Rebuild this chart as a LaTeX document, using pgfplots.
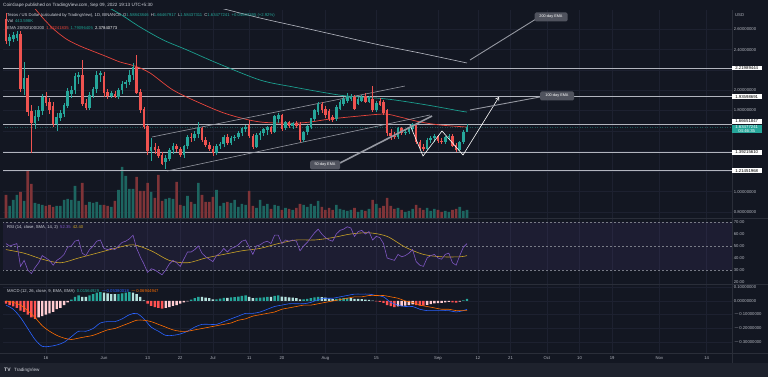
\documentclass[border=0pt]{standalone}
\usepackage{pgfplots}
\pgfplotsset{compat=1.18}
\usepackage{pgfplotstable}
\usetikzlibrary{arrows.meta}
\usepackage{fontspec}
\setmainfont{Liberation Sans}
\definecolor{bg}{HTML}{131722}
\definecolor{footc}{HTML}{1E222D}
\definecolor{gridc}{HTML}{1D2130}
\definecolor{sepc}{HTML}{2A2E39}
\definecolor{txt}{HTML}{B2B5BE}
\definecolor{hdr}{HTML}{D1D4DC}
\definecolor{up}{HTML}{26A69A}
\definecolor{dn}{HTML}{EF5350}
\definecolor{volup}{HTML}{1D6560}
\definecolor{voldn}{HTML}{7F3438}
\definecolor{emared}{HTML}{E8453C}
\definecolor{emateal}{HTML}{1B9E8E}
\definecolor{emagray}{HTML}{B8BBC4}
\definecolor{levc}{HTML}{B2B5BE}
\definecolor{chanc}{HTML}{9598A1}
\definecolor{rsiline}{HTML}{7E57C2}
\definecolor{rsisma}{HTML}{C9A227}
\definecolor{dashc}{HTML}{787B86}
\definecolor{macdc}{HTML}{2962FF}
\definecolor{sigc}{HTML}{FF6D00}
\definecolor{hup}{HTML}{26A69A}
\definecolor{hupl}{HTML}{B2DFDB}
\definecolor{hdn}{HTML}{FF5252}
\definecolor{hdnl}{HTML}{FFCDD2}
\definecolor{annot}{HTML}{50535E}
\newcommand{\tf}{\fontsize{4.2}{4.8}\selectfont}

\pgfplotstableread{
d o h l c v
-27 2.70 2.76 2.46 2.49 23
-26 2.49 2.55 2.44 2.52 12
-25 2.51 2.57 2.47 2.54 18
-24 2.52 2.58 2.48 2.55 23
-23 2.55 2.58 1.98 2.01 26
-22 2.01 2.28 1.95 2.12 17
-21 2.12 2.15 1.75 1.79 47
-20 1.79 1.85 1.38 1.68 34
-19 1.68 1.80 1.62 1.74 15
-18 1.74 1.84 1.70 1.80 14
-17 1.80 1.96 1.76 1.93 13
-16 1.93 1.98 1.84 1.88 12
-15 1.88 1.92 1.77 1.81 13
-14 1.84 1.88 1.64 1.67 11
-13 1.67 1.78 1.60 1.73 12
-12 1.73 1.80 1.70 1.77 12
-11 1.77 1.87 1.74 1.85 18
-10 1.85 2.02 1.82 1.99 19
-9 1.97 2.04 1.92 2.00 18
-8 2.00 2.17 1.96 2.14 32
-7 2.13 2.18 2.06 2.15 17
-6 2.15 2.30 1.84 1.87 35
-5 1.87 1.91 1.80 1.83 13
-4 1.83 1.98 1.80 1.95 16
-3 1.95 2.03 1.92 2.01 15
-2 2.01 2.19 1.97 2.15 16
-1 2.15 2.19 2.08 2.17 13
0 2.14 2.18 1.93 1.98 13
1 1.98 2.01 1.91 1.95 12
2 1.95 1.99 1.92 1.97 11
3 1.96 1.99 1.92 1.94 17
4 1.94 2.02 1.91 2.00 28
5 2.00 2.09 1.96 2.06 51
6 2.06 2.10 2.02 2.08 42
7 2.08 2.20 2.05 2.15 29
8 2.15 2.27 2.10 2.23 29
9 2.23 2.35 1.96 1.98 41
10 1.98 2.01 1.78 1.81 27
11 1.81 1.83 1.62 1.64 27
12 1.64 1.66 1.36 1.40 35
13 1.40 1.53 1.30 1.44 26
14 1.44 1.48 1.37 1.41 20
15 1.42 1.45 1.33 1.35 43
16 1.36 1.39 1.26 1.28 17
17 1.30 1.36 1.22 1.33 19
18 1.33 1.43 1.30 1.41 20
19 1.41 1.48 1.37 1.45 19
20 1.45 1.47 1.39 1.42 36
21 1.42 1.44 1.34 1.36 13
22 1.36 1.46 1.33 1.45 12
23 1.45 1.56 1.42 1.54 22
24 1.54 1.58 1.49 1.53 16
25 1.53 1.60 1.50 1.57 14
26 1.57 1.69 1.53 1.62 35
27 1.62 1.64 1.49 1.51 23
28 1.51 1.54 1.44 1.46 16
29 1.46 1.49 1.40 1.42 16
30 1.42 1.45 1.35 1.38 21
31 1.38 1.47 1.36 1.45 28
32 1.45 1.49 1.42 1.47 12
33 1.47 1.56 1.44 1.54 15
34 1.54 1.57 1.46 1.48 16
35 1.48 1.55 1.46 1.53 15
36 1.53 1.56 1.50 1.54 18
37 1.54 1.60 1.52 1.58 11
38 1.58 1.64 1.55 1.62 14
39 1.62 1.66 1.59 1.63 13
40 1.65 1.71 1.53 1.55 27
41 1.55 1.57 1.42 1.44 12
42 1.44 1.58 1.43 1.56 10
43 1.56 1.60 1.51 1.58 18
44 1.58 1.63 1.55 1.61 12
45 1.61 1.65 1.56 1.63 14
46 1.63 1.65 1.57 1.59 9
47 1.59 1.76 1.58 1.74 13
48 1.72 1.78 1.68 1.75 12
49 1.75 1.77 1.60 1.62 8
50 1.63 1.70 1.61 1.68 10
51 1.68 1.70 1.63 1.65 9
52 1.65 1.69 1.62 1.67 8
53 1.67 1.70 1.63 1.65 10
54 1.66 1.69 1.49 1.51 14
55 1.51 1.60 1.49 1.59 13
56 1.59 1.66 1.56 1.64 11
57 1.64 1.73 1.62 1.72 14
58 1.72 1.81 1.70 1.80 12
59 1.79 1.88 1.76 1.86 17
60 1.86 1.88 1.78 1.81 11
61 1.81 1.84 1.73 1.76 8
62 1.79 1.81 1.70 1.72 10
63 1.73 1.76 1.69 1.71 8
64 1.72 1.85 1.70 1.83 13
65 1.82 1.90 1.80 1.88 9
66 1.87 1.93 1.84 1.91 8
67 1.90 1.97 1.87 1.94 7
68 1.92 1.96 1.89 1.94 8
69 1.93 1.95 1.80 1.82 10
70 1.87 1.93 1.85 1.91 6
71 1.90 1.95 1.88 1.93 8
72 1.94 1.97 1.87 1.89 7
73 1.89 1.94 1.87 1.92 9
74 1.91 2.04 1.79 1.81 18
75 1.81 1.89 1.79 1.87 14
76 1.89 1.92 1.84 1.86 10
77 1.88 1.90 1.76 1.78 12
78 1.80 1.81 1.55 1.58 20
79 1.58 1.62 1.51 1.55 12
80 1.55 1.59 1.52 1.54 9
81 1.54 1.64 1.52 1.62 10
82 1.62 1.64 1.56 1.58 8
83 1.58 1.61 1.56 1.59 6
84 1.59 1.64 1.57 1.62 7
85 1.62 1.68 1.60 1.66 9
86 1.66 1.67 1.47 1.49 13
87 1.49 1.51 1.42 1.44 10
88 1.44 1.47 1.40 1.42 8
89 1.42 1.53 1.41 1.51 10
90 1.51 1.55 1.48 1.53 7
91 1.53 1.57 1.49 1.55 9
92 1.55 1.56 1.48 1.50 8
93 1.50 1.53 1.47 1.49 6
94 1.49 1.55 1.47 1.54 7
95 1.54 1.57 1.51 1.55 6
96 1.55 1.57 1.44 1.45 8
97 1.46 1.48 1.39 1.41 9
98 1.41 1.50 1.40 1.49 11
99 1.49 1.61 1.47 1.59 7
100 1.5884 1.6647 1.5844 1.6348 8
}\candles

\pgfplotstableread{
d r
-27 52
-26 50
-25 51
-24 52
-23 33
-22 38
-21 30
-20 27
-19 32
-18 36
-17 42
-16 40
-15 38
-14 34
-13 38
-12 40
-11 43
-10 49
-9 50
-8 54
-7 55
-6 44
-5 42
-4 47
-3 50
-2 54
-1 55
0 48
1 47
2 48
3 47
4 50
5 53
6 54
7 56
8 59
9 48
10 41
11 35
12 28
13 31
14 30
15 28
16 26
17 30
18 35
19 38
20 36
21 33
22 39
23 45
24 45
25 47
26 50
27 44
28 41
29 39
30 37
31 42
32 44
33 48
34 45
35 48
36 49
37 51
38 54
39 55
40 49
41 43
42 50
43 51
44 53
45 54
46 52
47 59
48 59
49 52
50 55
51 54
52 55
53 54
54 46
55 50
56 53
57 57
58 61
59 64
60 60
61 57
62 55
63 54
64 60
65 63
66 64
67 66
68 65
69 58
70 62
71 63
72 60
73 62
74 55
75 58
76 57
77 52
78 40
79 39
80 38
81 43
82 41
83 42
84 44
85 47
86 37
87 34
88 33
89 40
90 42
91 43
92 40
93 39
94 43
95 44
96 36
97 34
98 42
99 49
100 52
}\rsitab

\pgfplotstableread{
d h k
-27 -0.02 3
-26 -0.03 3
-25 -0.04 3
-24 -0.05 3
-23 -0.07 3
-22 -0.08 3
-21 -0.10 3
-20 -0.12 3
-19 -0.13 3
-18 -0.12 4
-17 -0.11 4
-16 -0.10 4
-15 -0.09 4
-14 -0.08 4
-13 -0.06 4
-12 -0.05 4
-11 -0.03 4
-10 -0.01 4
-9 0.01 1
-8 0.03 1
-7 0.04 1
-6 0.03 2
-5 0.03 2
-4 0.04 1
-3 0.05 1
-2 0.06 1
-1 0.065 1
0 0.06 2
1 0.055 2
2 0.05 2
3 0.05 2
4 0.05 1
5 0.055 1
6 0.06 1
7 0.065 1
8 0.06 2
9 0.05 2
10 0.03 2
11 0.005 2
12 -0.02 3
13 -0.035 3
14 -0.045 3
15 -0.05 3
16 -0.055 3
17 -0.05 4
18 -0.045 4
19 -0.035 4
20 -0.03 4
21 -0.02 4
22 -0.01 4
23 -0.003 4
24 0.01 1
25 0.02 1
26 0.03 1
27 0.03 2
28 0.025 2
29 0.02 2
30 0.012 2
31 0.012 1
32 0.018 1
33 0.022 1
34 0.022 2
35 0.026 1
36 0.028 1
37 0.032 1
38 0.038 1
39 0.04 1
40 0.03 2
41 0.02 2
42 0.022 1
43 0.024 1
44 0.027 1
45 0.03 1
46 0.03 2
47 0.038 1
48 0.04 1
49 0.032 2
50 0.03 2
51 0.026 2
52 0.024 2
53 0.02 2
54 0.012 2
55 0.012 1
56 0.015 1
57 0.02 1
58 0.026 1
59 0.03 1
60 0.028 2
61 0.024 2
62 0.018 2
63 0.014 2
64 0.016 1
65 0.019 1
66 0.021 1
67 0.022 1
68 0.021 2
69 0.016 2
70 0.015 2
71 0.014 2
72 0.01 2
73 0.008 2
74 0.002 2
75 -0.002 3
76 -0.006 3
77 -0.014 3
78 -0.03 3
79 -0.038 3
80 -0.044 3
81 -0.04 4
82 -0.038 4
83 -0.034 4
84 -0.03 4
85 -0.024 4
86 -0.03 3
87 -0.034 3
88 -0.034 3
89 -0.028 4
90 -0.022 4
91 -0.017 4
92 -0.016 4
93 -0.014 4
94 -0.01 4
95 -0.006 4
96 -0.01 3
97 -0.012 3
98 -0.004 4
99 0.005 1
100 0.015 1
}\histtab

\pgfplotsset{
  tvbase/.style={
    scale only axis, width=729pt, anchor=south west,
    xmin=-27.82, xmax=173.0,
    axis line style={draw=none}, major tick length=0pt,
    xtick={-16,0,12,21,30,40,49,61,75,92,103,112,122,131,140,153,166},
    xticklabels={},
    xmajorgrids, ymajorgrids, grid style={draw=gridc, line width=0.5pt},
    yticklabel pos=right,
    yticklabel style={font=\tf, text=txt, anchor=west, xshift=1.2pt, inner sep=0.5pt},
    scaled y ticks=false,
  },
  ovl/.style={
    scale only axis, width=729pt, anchor=south west,
    xmin=-27.82, xmax=173.0, hide axis,
  },
}

\begin{document}
\begin{tikzpicture}[x=1pt,y=1pt]
\path[use as bounding box] (0,0) rectangle (768,377);
\fill[bg] (0,0) rectangle (768,377);
\fill[footc] (0,0) rectangle (768,14);

% ---------- price pane: grid + scale
\begin{axis}[tvbase, at={(3pt,159pt)}, height=208pt, ymin=0.7409, ymax=2.7901,
  ytick={0.8,1.0,1.2,1.4,1.6,1.8,2.0,2.2,2.4,2.6},
  yticklabels={0.80000000,1.00000000,,,,1.80000000,2.00000000,,2.40000000,2.60000000}]
\addplot[draw=none] coordinates {(0,1)};
\end{axis}

% ---------- volume
\begin{axis}[ovl, at={(3pt,159pt)}, height=208pt, ymin=0, ymax=208]
\addplot[ybar, bar width=2.6pt, bar shift=0pt, fill=volup, draw=none,
  restrict expr to domain={\thisrow{c}-\thisrow{o}}{0:10}] table[x=d, y=v] {\candles};
\addplot[ybar, bar width=2.6pt, bar shift=0pt, fill=voldn, draw=none,
  restrict expr to domain={\thisrow{c}-\thisrow{o}}{-10:-0.00001}] table[x=d, y=v] {\candles};
\end{axis}

% ---------- price content
\begin{axis}[ovl, at={(3pt,159pt)}, height=208pt, ymin=0.7409, ymax=2.7901]
% key levels
\addplot[levc, line width=0.7pt] coordinates {(-28,2.21989444) (174,2.21989444)};
\addplot[levc, line width=0.7pt] coordinates {(-28,1.93598691) (174,1.93598691)};
\addplot[levc, line width=0.7pt] coordinates {(-28,1.66651847) (174,1.66651847)};
\addplot[levc, line width=0.7pt] coordinates {(-28,1.39215610) (174,1.39215610)};
\addplot[levc, line width=0.7pt] coordinates {(-28,1.21451968) (174,1.21451968)};
\addplot[up!45!bg, dotted, line width=0.5pt] coordinates {(-28,1.63477241) (174,1.63477241)};
% EMAs
\addplot[emagray, line width=0.6pt, smooth] coordinates {(26.4,2.859) (32.0,2.810) (43.0,2.711) (54.0,2.623) (65.0,2.534) (76.0,2.445) (87.1,2.366) (100,2.268)};
\addplot[emateal, line width=0.7pt, smooth] coordinates {(-1.1,2.859) (4.4,2.751) (9.9,2.623) (16.3,2.495) (22.9,2.396) (31.1,2.268) (43.0,2.100) (52.1,2.032) (61.4,1.972) (66.9,1.943) (78.0,1.913) (89.0,1.854) (98.1,1.795) (100,1.785)};
\addplot[emared, line width=0.7pt, smooth] coordinates {(-20.4,2.87) (-18.7,2.79) (-16.3,2.69) (-13.5,2.59) (-10.2,2.50) (-6.6,2.435) (-3.9,2.396) (0.3,2.337) (4.4,2.278) (8.5,2.238) (12.7,2.169) (19.0,2.002) (26.4,1.874) (33.9,1.765) (43.0,1.687) (54.0,1.677) (62.3,1.716) (70.5,1.746) (77.4,1.765) (81.5,1.736) (87.1,1.687) (92.6,1.657) (100,1.637)};
% channel
\addplot[chanc, line width=0.6pt] coordinates {(13.2,1.539) (82.9,2.041)};
\addplot[chanc, line width=0.6pt] coordinates {(17.4,1.204) (89.8,1.756)};
% candles: wicks
\addplot[draw=none, restrict expr to domain={\thisrow{c}-\thisrow{o}}{0:10},
  error bars/.cd, y dir=both, y explicit, error mark=none,
  error bar style={draw=up, line width=0.5pt, solid}]
  table[x=d, y expr={(\thisrow{h}+\thisrow{l})/2}, y error expr={(\thisrow{h}-\thisrow{l})/2}] {\candles};
\addplot[draw=none, restrict expr to domain={\thisrow{c}-\thisrow{o}}{-10:-0.00001},
  error bars/.cd, y dir=both, y explicit, error mark=none,
  error bar style={draw=dn, line width=0.5pt, solid}]
  table[x=d, y expr={(\thisrow{h}+\thisrow{l})/2}, y error expr={(\thisrow{h}-\thisrow{l})/2}] {\candles};
% candles: bodies
\addplot[draw=none, restrict expr to domain={\thisrow{c}-\thisrow{o}}{0:10},
  error bars/.cd, y dir=both, y explicit, error mark=none,
  error bar style={draw=up, line width=2.6pt, solid}]
  table[x=d, y expr={(\thisrow{o}+\thisrow{c})/2}, y error expr={abs(\thisrow{c}-\thisrow{o})/2+0.003}] {\candles};
\addplot[draw=none, restrict expr to domain={\thisrow{c}-\thisrow{o}}{-10:-0.00001},
  error bars/.cd, y dir=both, y explicit, error mark=none,
  error bar style={draw=dn, line width=2.6pt, solid}]
  table[x=d, y expr={(\thisrow{o}+\thisrow{c})/2}, y error expr={abs(\thisrow{c}-\thisrow{o})/2+0.003}] {\candles};
\end{axis}

% ---------- RSI pane
\begin{axis}[tvbase, at={(3pt,93pt)}, height=66pt, ymin=18.33, ymax=73.33,
  ymajorgrids=false,
  ytick={20,30,40,50,60,70}, yticklabels={20.00,30.00,40.00,50.00,60.00,70.00}]
\fill[rsiline, fill opacity=0.10] (axis cs:-28,30) rectangle (axis cs:174,70);
\addplot[dashc, line width=0.4pt, dash pattern=on 2pt off 2pt] coordinates {(-28,70) (174,70)};
\addplot[dashc, line width=0.4pt, dash pattern=on 2pt off 2pt] coordinates {(-28,50) (174,50)};
\addplot[dashc, line width=0.4pt, dash pattern=on 2pt off 2pt] coordinates {(-28,30) (174,30)};
\addplot[rsisma, line width=0.6pt, smooth] coordinates {(-27,47) (-22,44) (-17,39) (-12,36) (-7,40) (-2,44) (3,48) (8,51) (13,46) (18,38) (23,36) (28,40) (33,43) (38,46) (43,48) (48,52) (53,55) (58,55) (63,57) (68,60) (73,61) (78,58) (83,49) (88,43) (93,41) (98,41) (100,42)};
\addplot[rsiline, line width=0.6pt] table[x=d, y=r] {\rsitab};
\end{axis}

% ---------- MACD pane
\begin{axis}[tvbase, at={(3pt,24pt)}, height=69pt, ymin=-0.3782, ymax=0.1236,
  ytick={-0.3,-0.2,-0.1,0,0.1},
  yticklabels={$-$0.30000000,$-$0.20000000,$-$0.10000000,0.00000000,0.10000000},
  xticklabels={16,Jun,13,22,Jul,11,20,Aug,15,Sep,12,21,Oct,10,19,Nov,14},
  xticklabel style={font=\tf, text=txt, anchor=center, yshift=-5pt}]
\addplot[ybar, bar width=2.4pt, bar shift=0pt, fill=hup, draw=none, restrict expr to domain={\thisrow{k}}{0.5:1.5}] table[x=d, y=h] {\histtab};
\addplot[ybar, bar width=2.4pt, bar shift=0pt, fill=hupl, draw=none, restrict expr to domain={\thisrow{k}}{1.5:2.5}] table[x=d, y=h] {\histtab};
\addplot[ybar, bar width=2.4pt, bar shift=0pt, fill=hdn, draw=none, restrict expr to domain={\thisrow{k}}{2.5:3.5}] table[x=d, y=h] {\histtab};
\addplot[ybar, bar width=2.4pt, bar shift=0pt, fill=hdnl, draw=none, restrict expr to domain={\thisrow{k}}{3.5:4.5}] table[x=d, y=h] {\histtab};
\addplot[macdc, line width=0.6pt, smooth] coordinates {(-27,-0.03) (-25,-0.06) (-23,-0.12) (-21,-0.20) (-19,-0.28) (-17,-0.33) (-15,-0.33) (-13,-0.32) (-11,-0.30) (-9,-0.26) (-7,-0.22) (-5,-0.22) (-3,-0.20) (-1,-0.16) (1,-0.15) (3,-0.15) (5,-0.13) (7,-0.10) (9,-0.09) (11,-0.13) (13,-0.19) (15,-0.22) (17,-0.25) (19,-0.25) (21,-0.24) (23,-0.22) (25,-0.19) (27,-0.17) (29,-0.17) (31,-0.17) (33,-0.15) (35,-0.13) (37,-0.11) (39,-0.09) (41,-0.09) (43,-0.08) (45,-0.06) (47,-0.04) (49,-0.03) (51,-0.02) (53,-0.02) (55,-0.02) (57,-0.01) (59,0.01) (61,0.02) (63,0.02) (65,0.03) (67,0.04) (69,0.05) (71,0.05) (73,0.05) (75,0.04) (77,0.03) (79,-0.01) (81,-0.03) (83,-0.04) (85,-0.04) (87,-0.06) (89,-0.07) (91,-0.07) (93,-0.07) (95,-0.07) (97,-0.08) (99,-0.07) (100,-0.06)};
\addplot[sigc, line width=0.6pt, smooth] coordinates {(-27,0.00) (-25,-0.01) (-23,-0.03) (-21,-0.07) (-19,-0.12) (-17,-0.18) (-15,-0.22) (-13,-0.25) (-11,-0.27) (-9,-0.28) (-7,-0.27) (-5,-0.26) (-3,-0.25) (-1,-0.23) (1,-0.21) (3,-0.20) (5,-0.18) (7,-0.16) (9,-0.14) (11,-0.14) (13,-0.15) (15,-0.17) (17,-0.19) (19,-0.21) (21,-0.22) (23,-0.22) (25,-0.21) (27,-0.20) (29,-0.19) (31,-0.18) (33,-0.17) (35,-0.16) (37,-0.14) (39,-0.13) (41,-0.11) (43,-0.10) (45,-0.09) (47,-0.08) (49,-0.06) (51,-0.05) (53,-0.04) (55,-0.03) (57,-0.03) (59,-0.02) (61,-0.01) (63,0.00) (65,0.01) (67,0.02) (69,0.03) (71,0.03) (73,0.04) (75,0.04) (77,0.04) (79,0.03) (81,0.02) (83,0.00) (85,-0.01) (87,-0.03) (89,-0.04) (91,-0.05) (93,-0.06) (95,-0.06) (97,-0.07) (99,-0.07) (100,-0.07)};
\end{axis}

% ---------- separators
\draw[sepc, line width=0.6pt] (732,14) -- (732,367);
\draw[sepc, line width=0.6pt] (0,159) -- (768,159);
\draw[sepc, line width=0.6pt] (0,93) -- (768,93);
\draw[sepc, line width=0.6pt] (0,24) -- (768,24);

% ---------- annotations (W pattern, arrows, labels)
\draw[white, line width=0.6pt, -{Straight Barb[length=3pt,width=4pt]}] (410,252) -- (423,221) -- (442,246) -- (463,222) -- (499,280);
\draw[chanc, line width=1.6pt] (340,214) -- (432,261);
\node[fill=annot, rounded corners=1.5pt, text=white, font=\fontsize{3.8}{4}\selectfont, minimum width=30pt, minimum height=9pt, inner sep=1pt] at (325,212) {50-day EMA};
\draw[chanc, line width=0.9pt] (470,267) -- (540,280);
\node[fill=annot, rounded corners=1.5pt, text=white, font=\fontsize{3.8}{4}\selectfont, minimum width=34pt, minimum height=9pt, inner sep=1pt] at (557,281) {100-day EMA};
\draw[chanc, line width=0.9pt] (470,317) -- (536,358);
\node[fill=annot, rounded corners=1.5pt, text=white, font=\fontsize{3.8}{4}\selectfont, minimum width=33pt, minimum height=9pt, inner sep=1pt] at (551,360) {200-day EMA};

% ---------- right scale boxes
\begin{scope}[every node/.style={font=\fontsize{4.3}{4.6}\selectfont, inner xsep=1pt, inner ysep=0.7pt, minimum width=30pt, anchor=west}]
\node[fill=white, text=black] at (731.5,309) {2.21989444};
\node[fill=white, text=black] at (731.5,280.4) {1.93598691};
\node[fill=white, text=black] at (731.5,255.5) {1.66651847};
\node[fill=white, text=black] at (731.5,224.5) {1.39215610};
\node[fill=white, text=black] at (731.5,206.4) {1.21451968};
\node[fill=up, text=white, align=center, anchor=north west] at (731.5,252.5) {1.63477241\\[-0.4pt]04:46:35};
\end{scope}
\node[anchor=west, inner sep=0, text=txt, font=\tf] at (735,362) {USD};

% ---------- header and legends
\node[anchor=west, inner sep=0, text=hdr, font=\fontsize{4.6}{5}\selectfont] at (3,372) {CoinGape published on TradingView.com, Sep 09, 2022 19:13 UTC+5:30};
\node[anchor=west, inner sep=0, text=hdr, font=\tf] at (7,362) {Tezos / US Dollar (calculated by TradingView), 1D, BINANCE\enspace O\textcolor{up}{1.58843846}\enspace H\textcolor{up}{1.66467917}\enspace L\textcolor{up}{1.58437311}\enspace C\textcolor{up}{1.63477241}\enspace\textcolor{up}{+0.04633395 (+2.92\%)}};
\node[anchor=west, inner sep=0, text=hdr, font=\tf] at (7,355.5) {Vol\enspace\textcolor{up}{443.598K}};
\node[anchor=west, inner sep=0, text=hdr, font=\tf] at (7,348.5) {EMA 20/50/100/200\enspace\textcolor{emared}{1.52241835}\enspace\textcolor{emateal}{1.79096405}\enspace\textcolor{white}{2.37840773}};
\node[anchor=west, inner sep=0, text=hdr, font=\tf] at (7,150) {RSI (14, close, SMA, 14, 2)\enspace\textcolor{rsiline}{52.35}\enspace\textcolor{rsisma}{42.40}};
\node[anchor=west, inner sep=0, text=hdr, font=\tf] at (7,86) {MACD (12, 26, close, 9, EMA, EMA)\enspace\textcolor{hup}{0.01564929}\enspace\textcolor{macdc}{$-$0.05380018}\enspace\textcolor{sigc}{$-$0.06944947}};
% footer
\node[anchor=west, inner sep=0, text=hdr, font=\fontsize{5}{5.5}\selectfont\bfseries] at (4,7) {TV};
\node[anchor=west, inner sep=0, text=hdr, font=\fontsize{4.6}{5}\selectfont] at (14,7) {TradingView};
\end{tikzpicture}
\end{document}
